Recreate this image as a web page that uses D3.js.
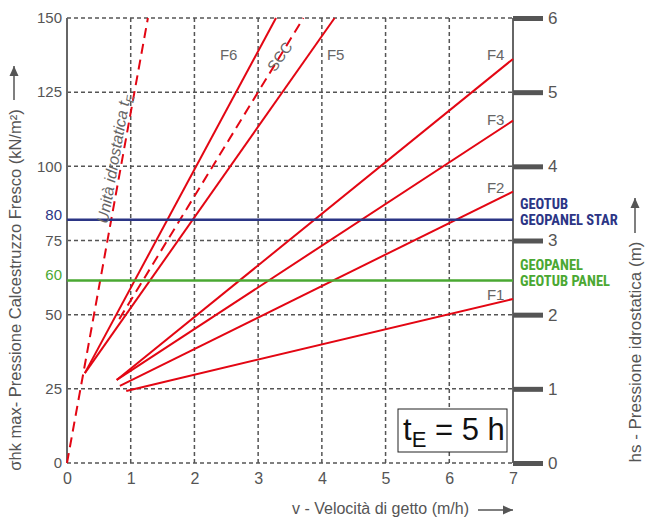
<!DOCTYPE html>
<html>
<head>
<meta charset="utf-8">
<script src="https://cdn.jsdelivr.net/npm/d3@7"></script>
<style>
  body { margin: 0; background: #fff; }
  svg { font-family: Helvetica, Arial, "Liberation Sans", sans-serif; }
  .grid line { stroke: #555; stroke-width: 1.5; stroke-dasharray: 4,3; }
  .axis text { fill: #555; }
  .axis .domain { display: none; }
</style>
</head>
<body>
<div id="chart"></div>
<script>
// axes
const vTicks = [0, 1, 2, 3, 4, 5, 6, 7]
const sigmaTicks = [0, 25, 50, 75, 100, 125, 150]
const hsTicks = [0, 1, 2, 3, 4, 5, 6]

// formwork limits (label as printed)
const limitNames = ['GEOTUB|GEOPANEL STAR', 'GEOPANEL|GEOTUB PANEL']
const limitValues = [82, 61.5]
const limitLabels = ['80', '60']
const limitColors = ['#2b3585', '#4aa832']

// red curves: [v, sigma] end points
const curveNames = ['F1', 'F2', 'F3', 'F4', 'F5', 'F6', 'SCC', 'idro']
const curvePoints = [
    [[0.93, 24.3], [7, 55.3]],
    [[0.83, 26.0], [7, 91.5]],
    [[0.78, 28.0], [7, 115.4]],
    [[0.78, 28.0], [7, 136.2]],
    [[0.28, 30.3], [4.2, 150]],
    [[0.28, 30.3], [3.28, 150]],
    [[0.82, 48.5], [3.71, 150]],
    [[0, 0], [1.27, 150]],
]
const curveDashed = [false, false, false, false, false, false, true, true]

// label anchors [text, v, sigma]
const fLabels = [
    ['F1', 6.59, 55], ['F2', 6.59, 91], ['F3', 6.59, 114], ['F4', 6.59, 136], ['F5', 4.08, 136], ['F6', 2.4, 136],
]

const W = 646, H = 521
const m = { top: 18, left: 67, right: 133, bottom: 58 }

const svg = d3.select('#chart').append('svg')
    .attr('width', W)
    .attr('height', H)

const x = d3.scaleLinear().domain([0, 7]).range([m.left, W - m.right])
const y = d3.scaleLinear().domain([0, 150]).range([H - m.bottom, m.top])
const yh = d3.scaleLinear().domain([0, 6]).range([H - m.bottom, m.top])

// grid
const grid = svg.append('g').attr('class', 'grid')
grid.selectAll('.gv')
    .data(vTicks.filter(d => d > 0 && d < 7))
    .enter().append('line')
    .attr('x1', d => x(d)).attr('x2', d => x(d))
    .attr('y1', y(0)).attr('y2', y(150))
grid.selectAll('.gh')
    .data(sigmaTicks)
    .enter().append('line')
    .attr('x1', x(0)).attr('x2', x(7))
    .attr('y1', d => y(d)).attr('y2', d => y(d))

// frame sides
svg.append('line')
    .attr('x1', x(0)).attr('x2', x(0)).attr('y1', y(0)).attr('y2', y(150))
    .style('stroke', '#666').style('stroke-width', 2)
svg.append('line')
    .attr('x1', x(7)).attr('x2', x(7)).attr('y1', y(0)).attr('y2', y(150))
    .style('stroke', '#666').style('stroke-width', 2)

// axes
svg.append('g').attr('class', 'axis')
    .attr('transform', `translate(0,${y(0)})`)
    .call(d3.axisBottom(x).tickValues(vTicks).tickSize(0).tickPadding(10).tickFormat(d3.format('d')))
    .selectAll('text').style('font-size', '16px')

svg.append('g').attr('class', 'axis')
    .attr('transform', `translate(${x(0)},0)`)
    .call(d3.axisLeft(y).tickValues(sigmaTicks).tickSize(0).tickPadding(5))
    .selectAll('text').style('font-size', '15px')

const right = svg.append('g').attr('class', 'axis')
    .attr('transform', `translate(${x(7)},0)`)
    .call(d3.axisRight(yh).tickValues(hsTicks).tickSize(30).tickPadding(5).tickFormat(d3.format('d')))
right.selectAll('line').style('stroke', '#555').style('stroke-width', 5)
right.selectAll('text').style('font-size', '17px')

// red curves
const line = d3.line().x(d => x(d[0])).y(d => y(d[1]))
svg.append('g').selectAll('path')
    .data(curvePoints)
    .enter().append('path')
    .attr('d', line)
    .style('fill', 'none')
    .style('stroke', '#e30613')
    .style('stroke-width', 2)
    .style('stroke-dasharray', (d, i) => curveDashed[i] ? '10,6' : null)

// limit lines
limitValues.forEach((v, i) => {
    svg.append('line')
        .attr('x1', x(0)).attr('x2', x(7))
        .attr('y1', y(v)).attr('y2', y(v))
        .style('stroke', limitColors[i]).style('stroke-width', 2.5)
    svg.append('text')
        .attr('x', x(0) - 5).attr('y', y(v) - 5)
        .attr('dy', '.32em')
        .attr('text-anchor', 'end')
        .style('font-size', '15px')
        .style('fill', limitColors[i])
        .text(limitLabels[i])
    const names = limitNames[i].split('|')
    const t = svg.append('text')
        .attr('x', x(7) + 7)
        .attr('y', y(v) - 11)
        .style('font-size', '14.5px')
        .style('font-weight', 'bold')
        .style('font-family', '"Liberation Sans Narrow", "Roboto Condensed", Arial, sans-serif')
        .style('fill', limitColors[i])
    names.forEach((n, j) => {
        t.append('tspan').attr('x', x(7) + 7).attr('dy', j == 0 ? 0 : 16.5).text(n)
    })
})

// curve labels
svg.append('g').selectAll('text')
    .data(fLabels)
    .enter().append('text')
    .attr('x', d => x(d[1]))
    .attr('y', d => y(d[2]))
    .style('font-size', '15px')
    .style('fill', '#666')
    .text(d => d[0])

svg.append('text')
    .attr('transform', `translate(${x(3.34)},${y(137)}) rotate(-55)`)
    .attr('text-anchor', 'middle')
    .attr('dy', '.35em')
    .style('font-size', '15px')
    .style('fill', '#666')
    .text('SCC')

const ut = svg.append('text')
    .attr('transform', `translate(${x(0.64)},${y(80.5)}) rotate(-80)`)
    .style('font-size', '16px')
    .style('font-style', 'italic')
    .style('fill', '#666')
ut.append('tspan').text('Unità idrostatica t')
ut.append('tspan').attr('dy', 4).style('font-size', '11px').text('E')

// tE box
svg.append('rect')
    .attr('x', 398).attr('y', 409).attr('width', 109).attr('height', 43)
    .style('fill', '#fff').style('stroke', '#222').style('stroke-width', 1)
const te = svg.append('text')
    .attr('x', 403).attr('y', 440)
    .style('font-size', '31px')
    .style('fill', '#111')
te.append('tspan').text('t')
te.append('tspan').attr('dy', 7).style('font-size', '22px').text('E')
te.append('tspan').attr('dy', -7).text(' = 5 h')

// axis titles
const titleStyle = s => s.style('font-size', '16px').style('fill', '#555')
svg.append('text')
    .attr('transform', `translate(21,290) rotate(-90)`)
    .attr('text-anchor', 'middle')
    .call(titleStyle)
    .style('font-size', '16.5px')
    .text('σhk max- Pressione Calcestruzzo Fresco (kN/m²)')
svg.append('text')
    .attr('transform', `translate(641,352) rotate(-90)`)
    .attr('text-anchor', 'middle')
    .call(titleStyle)
    .style('font-size', '17px')
    .text('hs - Pressione idrostatica (m)')
svg.append('text')
    .attr('x', 292).attr('y', 514)
    .call(titleStyle)
    .text('v - Velocità di getto (m/h)')

// arrows
const arrow = (x1, y1, x2, y2) => {
    svg.append('line')
        .attr('x1', x1).attr('y1', y1).attr('x2', x2).attr('y2', y2)
        .style('stroke', '#555').style('stroke-width', 1.5)
    const a = Math.atan2(y2 - y1, x2 - x1)
    const L = 10, w = 4.5
    const p = [
        [x2, y2],
        [x2 - L * Math.cos(a) + w * Math.sin(a), y2 - L * Math.sin(a) - w * Math.cos(a)],
        [x2 - L * Math.cos(a) - w * Math.sin(a), y2 - L * Math.sin(a) + w * Math.cos(a)],
    ]
    svg.append('path').attr('d', 'M' + p.join('L') + 'Z').style('fill', '#555')
}
arrow(14, 100, 14, 66)
arrow(635, 233, 635, 198)
arrow(478, 510, 513, 510)
</script>
</body>
</html>
